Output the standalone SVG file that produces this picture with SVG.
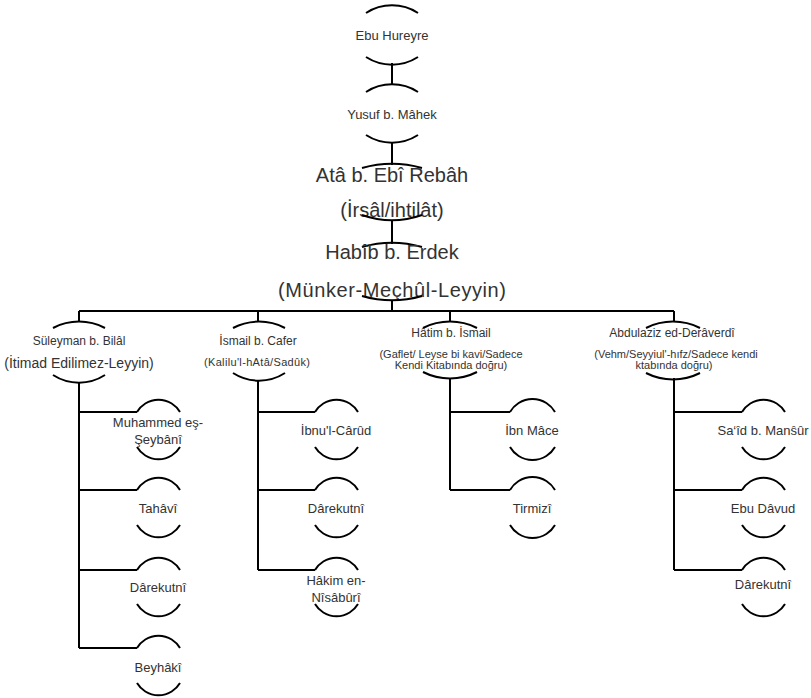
<svg xmlns="http://www.w3.org/2000/svg" width="811" height="698" viewBox="0 0 811 698">
  <style>
    .bg { fill: #ffffff; }
    .arc { fill: none; stroke: #000; stroke-width: 2; }
    .wire { fill: none; stroke: #000; stroke-width: 2; }
    text { font-family: "Liberation Sans", Arial, sans-serif; fill: #333; text-anchor: middle; }
    .t13 { font-size: 13px; }
    .t12 { font-size: 12px; }
    .t11 { font-size: 11px; }
    .t14 { font-size: 14px; }
    .t20 { font-size: 20px; }
  </style>
  <rect class="bg" x="0" y="0" width="811" height="698"/>

  <!-- connectors -->
  <g id="connectors">
    <path class="wire" d="M392,63 V85"/>
    <path class="wire" d="M392,142 V165"/>
    <path class="wire" d="M392,220 V244"/>
    <path class="wire" d="M392,300 V311"/>
    <path class="wire" d="M79,311 H674"/>
    <path class="wire" d="M79,311 V322 M258,311 V322 M450,311 V322 M674,311 V322"/>
    <!-- column 1 -->
    <path class="wire" d="M79,382 V648 M79,412 H137 M79,490 H137 M79,570 H137 M79,648 H137"/>
    <!-- column 2 -->
    <path class="wire" d="M258,380 V570 M258,412 H315 M258,490 H315 M258,570 H315"/>
    <!-- column 3 -->
    <path class="wire" d="M450,378 V490 M450,412 H510 M450,490 H510"/>
    <!-- column 4 -->
    <path class="wire" d="M674,378 V570 M674,412 H742 M674,490 H742 M674,570 H742"/>
  </g>

  <!-- top chain -->
  <g id="ebu-hureyre">
    <path class="arc" d="M366,13 A48 48 0 0 1 418,13"/>
    <text class="t13" x="392" y="40">Ebu Hureyre</text>
    <path class="arc" d="M366,57 A48 48 0 0 0 418,57"/>
  </g>
  <g id="yusuf">
    <path class="arc" d="M366,92 A48 48 0 0 1 418,92"/>
    <text class="t13" x="392" y="119">Yusuf b. Mâhek</text>
    <path class="arc" d="M366,135 A48 48 0 0 0 418,135"/>
  </g>
  <g id="ata">
    <path class="arc" d="M362,168 A110 110 0 0 1 422,168"/>
    <text class="t20" x="392" y="182">Atâ b. Ebî Rebâh</text>
    <text class="t20" x="392" y="217">(İrsâl/ihtilât)</text>
    <path class="arc" d="M362,215 A90 90 0 0 0 422,215"/>
  </g>
  <g id="habib">
    <path class="arc" d="M362,247 A110 110 0 0 1 422,247"/>
    <text class="t20" x="392" y="259">Habîb b. Erdek</text>
    <text class="t20" x="392" y="297" textLength="228" lengthAdjust="spacing">(Münker-Meçhûl-Leyyin)</text>
    <path class="arc" d="M362,296 A110 110 0 0 0 422,296"/>
  </g>

  <!-- second level -->
  <g id="suleyman">
    <path class="arc" d="M53,328 A56 56 0 0 1 105,328"/>
    <text class="t12" x="79" y="345">Süleyman b. Bilâl</text>
    <text class="t14" x="79" y="368">(İtimad Edilimez-Leyyin)</text>
    <path class="arc" d="M53,375 A48 48 0 0 0 105,375"/>
  </g>
  <g id="ismail">
    <path class="arc" d="M233,328 A56 56 0 0 1 285,328"/>
    <text class="t12" x="258" y="345">İsmail b. Cafer</text>
    <text class="t11" x="257" y="366" textLength="106" lengthAdjust="spacing">(Kalilu'l-hAtâ/Sadûk)</text>
    <path class="arc" d="M233,373 A48 48 0 0 0 285,373"/>
  </g>
  <g id="hatim">
    <path class="arc" d="M423,328 A60 60 0 0 1 477,328"/>
    <text class="t12" x="451" y="337">Hâtim b. İsmail</text>
    <text class="t11" x="451" y="358">(Gaflet/ Leyse bi kavi/Sadece</text>
    <text class="t11" x="451" y="369">Kendi Kitabında doğru)</text>
    <path class="arc" d="M423,372 A60 60 0 0 0 477,372"/>
  </g>
  <g id="abdulaziz">
    <path class="arc" d="M646,328 A60 60 0 0 1 700,328"/>
    <text class="t12" x="672" y="337">Abdulaziz ed-Derâverdî</text>
    <text class="t11" x="676" y="358">(Vehm/Seyyiul'-hıfz/Sadece kendi</text>
    <text class="t11" x="674" y="369">ktabında doğru)</text>
    <path class="arc" d="M646,373 A60 60 0 0 0 700,373"/>
  </g>

  <!-- column 1 children -->
  <g id="muhammed">
    <path class="arc" d="M137,412 A25 25 0 0 1 180,412"/>
    <text class="t13" x="158" y="427">Muhammed eş-</text>
    <text class="t13" x="158" y="444">Şeybânî</text>
    <path class="arc" d="M137,447 A25 25 0 0 0 180,447"/>
  </g>
  <g id="tahavi">
    <path class="arc" d="M137,490 A25 25 0 0 1 180,490"/>
    <text class="t13" x="158" y="513">Tahâvî</text>
    <path class="arc" d="M137,525 A25 25 0 0 0 180,525"/>
  </g>
  <g id="darekutni-1">
    <path class="arc" d="M137,570 A25 25 0 0 1 180,570"/>
    <text class="t13" x="158" y="592">Dârekutnî</text>
    <path class="arc" d="M137,604 A25 25 0 0 0 180,604"/>
  </g>
  <g id="beyhaki">
    <path class="arc" d="M137,648 A25 25 0 0 1 180,648"/>
    <text class="t13" x="158" y="672">Beyhâkî</text>
    <path class="arc" d="M137,683 A25 25 0 0 0 180,683"/>
  </g>

  <!-- column 2 children -->
  <g id="ibnul-carud">
    <path class="arc" d="M315,412 A25 25 0 0 1 358,412"/>
    <text class="t13" x="336" y="435">İbnu'l-Cârûd</text>
    <path class="arc" d="M315,447 A25 25 0 0 0 358,447"/>
  </g>
  <g id="darekutni-2">
    <path class="arc" d="M315,490 A25 25 0 0 1 358,490"/>
    <text class="t13" x="336" y="513">Dârekutnî</text>
    <path class="arc" d="M315,525 A25 25 0 0 0 358,525"/>
  </g>
  <g id="hakim">
    <path class="arc" d="M315,570 A25 25 0 0 1 358,570"/>
    <text class="t13" x="336" y="585">Hâkim en-</text>
    <text class="t13" x="336" y="602">Nîsâbûrî</text>
    <path class="arc" d="M315,604 A25 25 0 0 0 358,604"/>
  </g>

  <!-- column 3 children -->
  <g id="ibn-mace">
    <path class="arc" d="M510,412 A26 26 0 0 1 555,412"/>
    <text class="t13" x="532" y="435">İbn Mâce</text>
    <path class="arc" d="M510,447 A26 26 0 0 0 555,447"/>
  </g>
  <g id="tirmizi">
    <path class="arc" d="M510,490 A26 26 0 0 1 555,490"/>
    <text class="t13" x="532" y="513">Tirmizî</text>
    <path class="arc" d="M510,525 A26 26 0 0 0 555,525"/>
  </g>

  <!-- column 4 children -->
  <g id="said">
    <path class="arc" d="M742,412 A25 25 0 0 1 785,412"/>
    <text class="t13" x="763" y="435">Sa‘îd b. Manŝûr</text>
    <path class="arc" d="M742,447 A25 25 0 0 0 785,447"/>
  </g>
  <g id="ebu-davud">
    <path class="arc" d="M742,490 A25 25 0 0 1 785,490"/>
    <text class="t13" x="763" y="513">Ebu Dâvud</text>
    <path class="arc" d="M742,525 A25 25 0 0 0 785,525"/>
  </g>
  <g id="darekutni-4">
    <path class="arc" d="M742,570 A25 25 0 0 1 785,570"/>
    <text class="t13" x="763" y="589">Dârekutnî</text>
    <path class="arc" d="M742,604 A25 25 0 0 0 785,604"/>
  </g>
</svg>
